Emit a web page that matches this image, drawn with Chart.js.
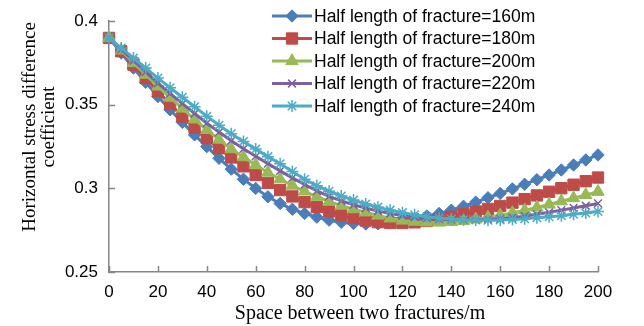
<!DOCTYPE html>
<html>
<head>
<meta charset="utf-8">
<script src="https://cdn.jsdelivr.net/npm/chart.js@4.4.0/dist/chart.umd.min.js"></script>
<style>
html, body { margin: 0; padding: 0; background: #fff; }
</style>
</head>
<body>
<canvas id="myChart" width="644" height="326"></canvas>
<script>
// spacing between the two fractures (m)
var spacing = [0, 5, 10, 15, 20, 25, 30, 35, 40, 45, 50, 55, 60, 65, 70, 75, 80, 85, 90, 95,
    100, 105, 110, 115, 120, 125, 130, 135, 140, 145, 150, 155, 160, 165, 170, 175, 180, 185, 190, 195, 200];

var half160 = [0.390, 0.381, 0.372, 0.3635, 0.355, 0.347, 0.3395, 0.332, 0.325, 0.318, 0.3115, 0.3055, 0.300, 0.295, 0.291, 0.2875, 0.285, 0.2828, 0.281, 0.2797,
    0.279, 0.2787, 0.2788, 0.2795, 0.2805, 0.282, 0.2835, 0.285, 0.287, 0.2893, 0.2918, 0.2944, 0.297, 0.2997, 0.3025, 0.3052, 0.308, 0.311, 0.314, 0.317, 0.320];
var half180 = [0.390, 0.382, 0.374, 0.366, 0.358, 0.3505, 0.343, 0.3363, 0.330, 0.324, 0.3185, 0.3132, 0.308, 0.3033, 0.299, 0.2952, 0.2918, 0.2888, 0.2862, 0.284,
    0.2822, 0.2808, 0.2798, 0.2793, 0.2793, 0.2797, 0.2805, 0.2816, 0.283, 0.2845, 0.2862, 0.2877, 0.2895, 0.2915, 0.2936, 0.2958, 0.298, 0.3001, 0.3022, 0.3043, 0.3065];
var half200 = [0.390, 0.3825, 0.375, 0.368, 0.361, 0.3543, 0.3478, 0.3413, 0.335, 0.3292, 0.3235, 0.3187, 0.314, 0.3095, 0.3055, 0.3017, 0.2982, 0.295, 0.2922, 0.2897,
    0.2876, 0.2857, 0.2838, 0.2821, 0.2808, 0.2801, 0.2797, 0.2796, 0.2799, 0.2805, 0.2815, 0.2826, 0.2839, 0.2853, 0.2869, 0.2886, 0.2904, 0.2923, 0.2942, 0.2961, 0.298];
var half220 = [0.390, 0.3832, 0.3765, 0.3697, 0.363, 0.3568, 0.3507, 0.3448, 0.339, 0.3337, 0.3285, 0.3237, 0.3192, 0.3148, 0.3105, 0.3063, 0.3023, 0.2985, 0.2952, 0.2925,
    0.2902, 0.2882, 0.2865, 0.285, 0.2838, 0.2829, 0.2822, 0.2817, 0.2814, 0.2812, 0.2812, 0.2814, 0.2818, 0.2825, 0.2834, 0.2845, 0.2857, 0.287, 0.2883, 0.2896, 0.291];
var half240 = [0.390, 0.384, 0.378, 0.372, 0.366, 0.3602, 0.3545, 0.3488, 0.3432, 0.3378, 0.3327, 0.328, 0.3235, 0.319, 0.3147, 0.3101, 0.3055, 0.3016, 0.2983, 0.2955,
    0.293, 0.2907, 0.2888, 0.287, 0.2855, 0.2842, 0.2831, 0.2823, 0.2817, 0.2813, 0.2811, 0.281, 0.2811, 0.2814, 0.2818, 0.2824, 0.283, 0.2837, 0.2845, 0.2853, 0.2862];

var seriesNames = ['Half length of fracture=160m', 'Half length of fracture=180m', 'Half length of fracture=200m',
    'Half length of fracture=220m', 'Half length of fracture=240m'];
var yTickLabels = ['0.25', '0.3', '0.35', '0.4'];
var xTitle = 'Space between two fractures/m';
var yTitle = ['Horizontal stress difference', 'coefficient'];

var colors = ['#4A7EBB', '#BE4B48', '#98B954', '#7D60A0', '#4BACC6'];
var markers = ['rectRot', 'rect', 'triangle', 'crossRot', 'star'];
var markerSize = [6.2, 8, 7.2, 5.5, 6];
var allSeries = [half160, half180, half200, half220, half240];

function toPoints(values) {
    return values.map(function (v, i) { return { x: spacing[i], y: v }; });
}

var datasets = allSeries.map(function (values, i) {
    return {
        label: seriesNames[i],
        data: toPoints(values),
        borderColor: colors[i],
        backgroundColor: colors[i],
        borderWidth: 3,
        pointStyle: markers[i],
        pointRadius: markerSize[i],
        pointBorderColor: colors[i],
        pointBackgroundColor: colors[i],
        pointBorderWidth: (i >= 3) ? 1.5 : 1,
        tension: 0,
        clip: false,
        order: 5 - i  // later series on top, like the original
    };
});

var axisGrey = '#868686';

// titles, inner tick marks and the legend are drawn by hand
var extras = {
    id: 'extras',
    afterDraw: function (chart) {
        var ctx = chart.ctx;
        var xs = chart.scales.x, ys = chart.scales.y;
        var area = chart.chartArea;
        ctx.save();

        // tick marks pointing into the plot
        ctx.strokeStyle = axisGrey;
        ctx.lineWidth = 1.5;
        xs.ticks.forEach(function (t) {
            var px = Math.round(xs.getPixelForValue(t.value)) + 0.5;
            ctx.beginPath();
            ctx.moveTo(px, area.bottom);
            ctx.lineTo(px, area.bottom - 6);
            ctx.stroke();
        });
        ys.ticks.forEach(function (t) {
            var py = Math.round(ys.getPixelForValue(t.value)) + 0.5;
            ctx.beginPath();
            ctx.moveTo(area.left, py);
            ctx.lineTo(area.left + 6, py);
            ctx.stroke();
        });

        // axis titles
        ctx.fillStyle = '#000';
        ctx.font = '20px "Liberation Serif", "Times New Roman", serif';
        ctx.textAlign = 'center';
        ctx.textBaseline = 'middle';
        ctx.fillText(xTitle, 360, 314);

        ctx.font = '19px "Liberation Serif", "Times New Roman", serif';
        ctx.translate(30, 127);
        ctx.rotate(-Math.PI / 2);
        ctx.fillText(yTitle[0], 0, 0);
        ctx.fillText(yTitle[1], 0, 19);
        ctx.setTransform(1, 0, 0, 1, 0, 0);

        // legend
        ctx.font = '17.5px "Liberation Sans", Arial, sans-serif';
        ctx.textAlign = 'left';
        ctx.textBaseline = 'middle';
        for (var i = 0; i < seriesNames.length; i++) {
            var ly = 16 + i * 22.5;
            ctx.strokeStyle = colors[i];
            ctx.lineWidth = 3;
            ctx.beginPath();
            ctx.moveTo(272, ly);
            ctx.lineTo(312, ly);
            ctx.stroke();
            ctx.fillStyle = colors[i];
            ctx.lineWidth = (i >= 3) ? 1.5 : 1;
            Chart.helpers.drawPoint(ctx, {
                pointStyle: markers[i],
                radius: markerSize[i],
                rotation: 0,
                borderWidth: (i >= 3) ? 1.5 : 1
            }, 292, ly);
            ctx.fillStyle = '#000';
            ctx.fillText(seriesNames[i], 314, ly + 1);
        }
        ctx.restore();
    }
};

var ctxChart = document.getElementById('myChart').getContext('2d');
var myChart = new Chart(ctxChart, {
    type: 'line',
    data: { datasets: datasets },
    options: {
        responsive: false,
        animation: false,
        events: [],
        layout: { padding: { top: 21, right: 46, left: 0, bottom: 0 } },
        plugins: {
            legend: { display: false },
            tooltip: { enabled: false }
        },
        scales: {
            x: {
                type: 'linear',
                min: 0,
                max: 200,
                ticks: {
                    stepSize: 20,
                    padding: 10,
                    color: '#000',
                    font: { family: '"Liberation Sans", Arial, sans-serif', size: 17 },
                    maxRotation: 0
                },
                grid: { display: true, drawOnChartArea: false, drawTicks: false },
                border: { color: axisGrey, width: 1.5 },
                afterFit: function (scale) { scale.height = 54; }
            },
            y: {
                type: 'linear',
                min: 0.25,
                max: 0.4,
                ticks: {
                    stepSize: 0.05,
                    padding: 11,
                    color: '#000',
                    font: { family: '"Liberation Sans", Arial, sans-serif', size: 17 },
                    callback: function (value, index) { return yTickLabels[index]; }
                },
                grid: { display: true, drawOnChartArea: false, drawTicks: false },
                border: { color: axisGrey, width: 1.5 },
                afterFit: function (scale) { scale.width = 109; }
            }
        }
    },
    plugins: [extras]
});
</script>
</body>
</html>
